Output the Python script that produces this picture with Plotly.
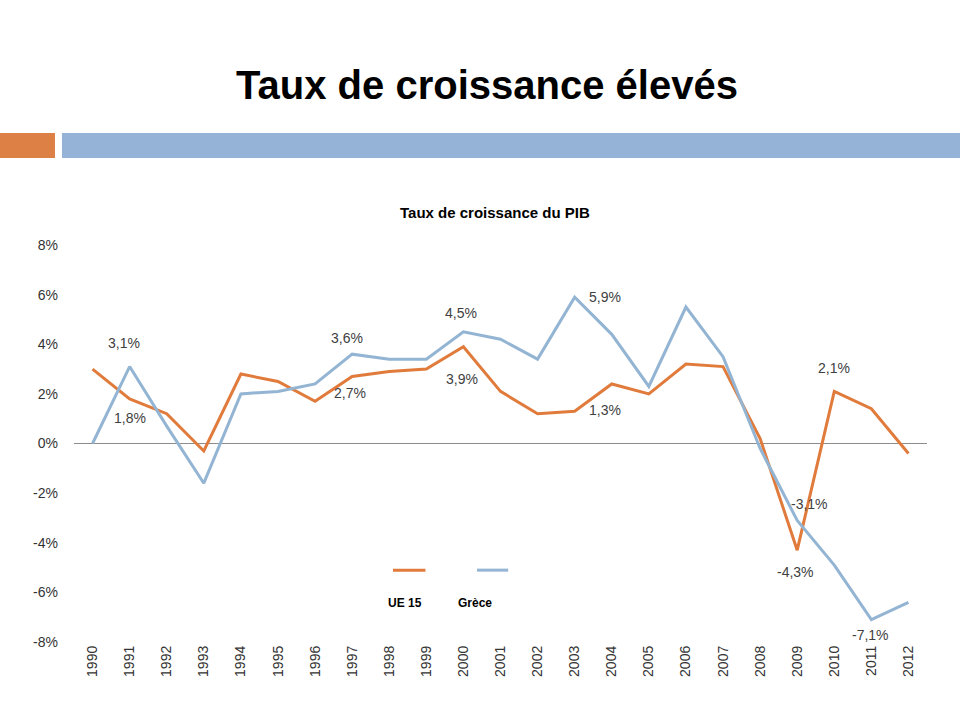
import plotly.graph_objects as go

years = list(range(1990, 2013))
ue15 = [3.0, 1.8, 1.2, -0.3, 2.8, 2.5, 1.7, 2.7, 2.9, 3.0, 3.9, 2.1, 1.2, 1.3,
        2.4, 2.0, 3.2, 3.1, 0.2, -4.3, 2.1, 1.4, -0.4]
grece = [0.0, 3.1, 0.7, -1.6, 2.0, 2.1, 2.4, 3.6, 3.4, 3.4, 4.5, 4.2, 3.4, 5.9,
         4.4, 2.3, 5.5, 3.5, -0.2, -3.1, -4.9, -7.1, -6.4]
y_ticks = [-8, -6, -4, -2, 0, 2, 4, 6, 8]
y_tick_text = [f"{v}%" for v in y_ticks]

main_title = "Taux de croissance élevés"
chart_title = "Taux de croissance du PIB"
names = ["UE 15", "Grèce"]

c_orange = "#E07B3C"
c_blue = "#93B5D3"

# labelled points: (series, year, xshift, yshift)
labels = [
    ("g", 1991, -6, 24), ("u", 1991, 0, -19),
    ("g", 1997, -5, 16), ("u", 1997, -2, -16),
    ("g", 2000, -2, 19), ("u", 2000, -1, -32),
    ("g", 2003, 30, 0), ("u", 2003, 30, 1),
    ("u", 2010, 0, 23), ("g", 2009, 12, 16), ("u", 2009, -2, -22),
    ("g", 2011, -1, -15),
]

fig = go.Figure()
fig.add_trace(go.Scatter(x=years, y=ue15, mode="lines", name=names[0],
                         line=dict(color=c_orange, width=3), showlegend=False))
fig.add_trace(go.Scatter(x=years, y=grece, mode="lines", name=names[1],
                         line=dict(color=c_blue, width=3), showlegend=False))

annotations = []
for s, yr, dx, dy in labels:
    arr = ue15 if s == "u" else grece
    v = arr[years.index(yr)]
    txt = f"{v:.1f}".replace(".", ",") + "%"
    annotations.append(dict(x=yr, y=v, xref="x", yref="y", text=txt, showarrow=False,
                            xshift=dx, yshift=dy,
                            font=dict(size=14, color="#404040", family="Liberation Sans")))

annotations.append(dict(x=0.4936, y=1.083, xref="paper", yref="paper", text=f"<b>{chart_title}</b>",
                        showarrow=False, yanchor="middle",
                        font=dict(size=15, color="#000", family="Liberation Sans")))
annotations.append(dict(x=0.388, y=0.098, xref="paper", yref="paper", text=f"<b>{names[0]}</b>",
                        showarrow=False, yanchor="middle",
                        font=dict(size=12, color="#000", family="Liberation Sans")))
annotations.append(dict(x=0.4701, y=0.098, xref="paper", yref="paper", text=f"<b>{names[1]}</b>",
                        showarrow=False, yanchor="middle",
                        font=dict(size=12, color="#000", family="Liberation Sans")))

shapes = [
    dict(type="rect", xref="paper", yref="paper", x0=-0.0868, x1=-0.0223, y0=1.219, y1=1.282,
         fillcolor="#DD8046", line=dict(width=0), layer="above"),
    dict(type="rect", xref="paper", yref="paper", x0=-0.0141, x1=1.06, y0=1.219, y1=1.282,
         fillcolor="#95B3D7", line=dict(width=0), layer="above"),
    dict(type="line", xref="paper", yref="paper", x0=0.374, x1=0.412, y0=0.181, y1=0.181,
         line=dict(color=c_orange, width=3)),
    dict(type="line", xref="paper", yref="paper", x0=0.4725, x1=0.509, y0=0.181, y1=0.181,
         line=dict(color=c_blue, width=3)),
]

fig.update_layout(
    width=960, height=720,
    margin=dict(l=74, r=33, t=245, b=78),
    paper_bgcolor="white", plot_bgcolor="white",
    title=dict(text=f"<b>{main_title}</b>", x=487 / 960, xanchor="center", y=1 - 85 / 720,
               yanchor="middle", yref="container",
               font=dict(size=40, color="#000", family="Liberation Sans")),
    xaxis=dict(range=[1989.5, 2012.5], tickvals=years, ticktext=[str(y) for y in years],
               tickangle=-90, showgrid=False, zeroline=False, showline=False,
               tickfont=dict(size=14, color="#333", family="Liberation Sans"), ticks=""),
    yaxis=dict(range=[-8, 8], tickvals=y_ticks, ticktext=y_tick_text, showgrid=False,
               zeroline=True, zerolinecolor="#8C8C8C", zerolinewidth=1, showline=False,
               tickfont=dict(size=14, color="#333", family="Liberation Sans"), ticks="",
               ticklabelstandoff=15),
    annotations=annotations, shapes=shapes, showlegend=False,
)
fig.write_html("out.html", config={"displayModeBar": False},
               post_script="document.body.style.margin='0';document.body.style.overflow='hidden';")
